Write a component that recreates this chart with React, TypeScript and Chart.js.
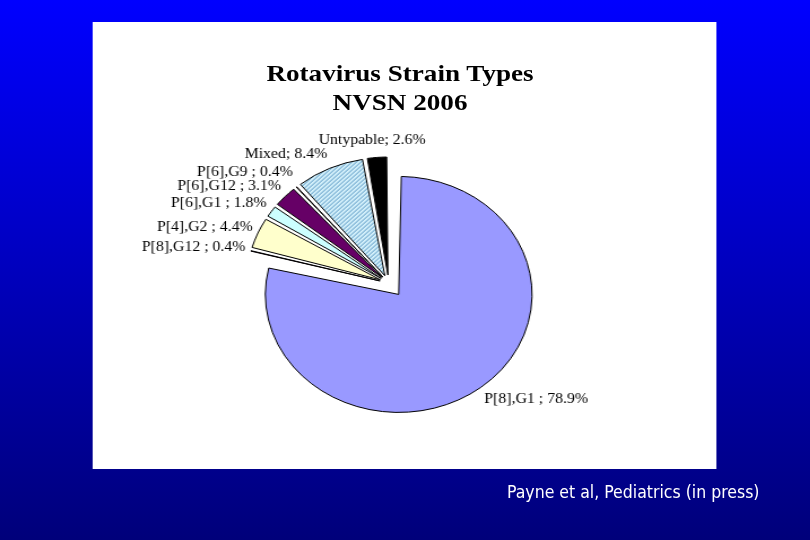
import { useEffect, useRef } from "react";
import { Chart, registerables } from "chart.js";

Chart.register(...registerables);

// ---- data ----
const categories = ["P[8],G1", "P[8],G12", "P[4],G2", "P[6],G1", "P[6],G12", "P[6],G9", "Mixed", "Untypable"];
const percentages = [78.9, 0.4, 4.4, 1.8, 3.1, 0.4, 8.4, 2.6];
const separators = [" ; ", " ; ", " ; ", " ; ", " ; ", " ; ", "; ", "; "];
const titleLines = ["Rotavirus Strain Types", "NVSN 2006"];
const citation = "Payne et al, Pediatrics (in press)";

// ---- styles ----
const sliceColors = ["#9999FF", "#993366", "#FFFFCC", "#CCFFFF", "#660066", "#FF8080", "HATCH", "#000000"];
const explodeOffsets = [58, 32, 32, 32, 32, 32, 32, 32]; // chart.js offset (translation = offset / 4)
const PIE_RADIUS = 118;
const STRETCH = 1.13;
const LABEL_FONT = "14px 'Liberation Serif', 'Times New Roman', serif";
const LABEL_PAD = 5;
const LABEL_VSHIFT = 10;
const LABEL_GAP = 14;

function makeHatch(): CanvasPattern | string {
  const c = document.createElement("canvas");
  c.width = 4;
  c.height = 4;
  const g = c.getContext("2d");
  if (!g) return "#A8D8EE";
  g.fillStyle = "#D6F2FC";
  g.fillRect(0, 0, 4, 4);
  g.strokeStyle = "#4A8EBE";
  g.lineWidth = 1.0;
  g.beginPath();
  g.moveTo(0, 4);
  g.lineTo(4, 0);
  g.moveTo(-1, 1);
  g.lineTo(1, -1);
  g.moveTo(3, 5);
  g.lineTo(5, 3);
  g.stroke();
  const p = g.createPattern(c, "repeat");
  return p || "#A8D8EE";
}

// keep the drawn radius equal for every slice while the slice is moved out
const explodePlugin = {
  id: "explodeFix",
  beforeDatasetsDraw(chart: any) {
    const meta = chart.getDatasetMeta(0);
    meta.data.forEach((arc: any, i: number) => {
      const shift = (explodeOffsets[i] || 0) / 4;
      const fix = 1 - Math.sin(Math.min(Math.PI, arc.circumference || 0));
      arc.outerRadius = PIE_RADIUS - shift * fix;
    });
  },
};

const labelPlugin = {
  id: "sliceLabels",
  afterDatasetsDraw(chart: any) {
    const meta = chart.getDatasetMeta(0);
    const ctx: CanvasRenderingContext2D = chart.ctx;
    ctx.save();
    ctx.font = LABEL_FONT;
    ctx.fillStyle = "#000";
    ctx.textBaseline = "middle";
    let prevY: number | null = null;
    meta.data.forEach((arc: any, i: number) => {
      const mid = (arc.startAngle + arc.endAngle) / 2;
      const dx = Math.cos(mid);
      const dy = Math.sin(mid);
      const shift = (explodeOffsets[i] || 0) / 4;
      const r = shift + PIE_RADIUS + LABEL_PAD;
      let ax = arc.x + dx * r;
      const ay = arc.y + dy * r;
      const text = categories[i] + separators[i] + percentages[i].toFixed(1) + "%";
      const w = ctx.measureText(text).width;
      let align: CanvasTextAlign = "center";
      if (dx < -0.3) align = "right";
      else if (dx > 0.3) align = "left";
      else ax += (dx * w) / 2;
      let cy = ay + dy * LABEL_VSHIFT;
      if (i > 0) {
        if (prevY !== null) cy = Math.min(cy, prevY - LABEL_GAP);
        prevY = cy;
      }
      ctx.textAlign = align;
      ctx.fillText(text, ax, cy);
    });
    ctx.restore();
  },
};

export default function App() {
  const ref = useRef<HTMLCanvasElement>(null);

  useEffect(() => {
    const canvas = ref.current;
    if (!canvas) return;
    const hatch = makeHatch();
    const colors = sliceColors.map((c) => (c === "HATCH" ? hatch : c));
    const chart = new Chart(canvas, {
      type: "pie",
      data: {
        labels: categories,
        datasets: [
          {
            data: percentages,
            backgroundColor: colors as any,
            borderColor: "#000000",
            borderWidth: 1,
            offset: explodeOffsets,
            hoverOffset: 0,
            radius: PIE_RADIUS,
          } as any,
        ],
      },
      options: {
        responsive: false,
        animation: false,
        events: [],
        layout: { padding: { left: 0, right: 28.2, top: 75, bottom: 0 } },
        plugins: {
          legend: { display: false },
          tooltip: { enabled: false },
          title: { display: false },
        },
      },
      plugins: [explodePlugin, labelPlugin],
    });
    return () => chart.destroy();
  }, []);

  return (
    <div
      style={{
        position: "fixed",
        left: 0,
        top: 0,
        width: 810,
        height: 540,
        overflow: "hidden",
        background: "linear-gradient(to bottom, #0000FF 0%, #0000C4 45%, #00007A 100%)",
      }}
    >
      <div
        style={{
          position: "absolute",
          left: 0,
          top: 0,
          width: 720,
          height: 540,
          transform: `scaleX(${STRETCH})`,
          transformOrigin: "0 0",
        }}
      >
        <div
          style={{
            position: "absolute",
            left: 81.9,
            top: 22,
            width: 552,
            height: 447,
            background: "#FFFFFF",
          }}
        >
          <canvas
            ref={ref}
            width={552}
            height={447}
            style={{ position: "absolute", left: 0, top: 0, width: 552, height: 447 }}
          />
        </div>
        <div
          style={{
            position: "absolute",
            left: 354 - 200,
            top: 59,
            width: 400,
            textAlign: "center",
            fontFamily: "'Liberation Serif', 'Times New Roman', serif",
            fontWeight: "bold",
            fontSize: 24,
            lineHeight: "28.5px",
            color: "#000",
            whiteSpace: "nowrap",
          }}
        >
          {titleLines[0]}
          <br />
          {titleLines[1]}
        </div>
      </div>
      <div
        style={{
          position: "absolute",
          left: 507,
          top: 482,
          fontFamily: "'DejaVu Sans Condensed', 'DejaVu Sans', sans-serif",
          fontSize: 17.5,
          lineHeight: "20px",
          color: "#FFFFFF",
          whiteSpace: "nowrap",
        }}
      >
        {citation}
      </div>
    </div>
  );
}
